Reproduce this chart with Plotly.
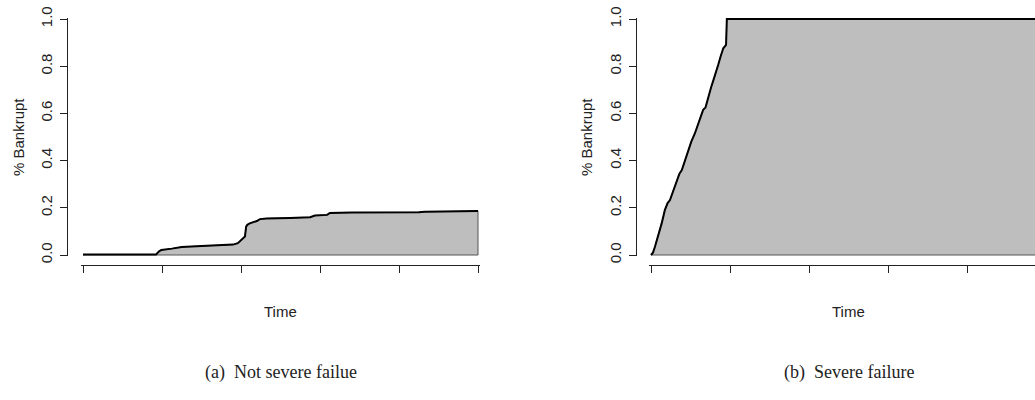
#!/usr/bin/env python
import plotly.graph_objects as go

# Fraction of bankrupt agents over time (time in % of the run)
TIME_A = [0, 18.5, 19.2, 19.8, 22.5, 25, 30, 34, 38, 39.2, 40.2, 41.0, 41.3, 41.6,
          42.2, 43.1, 44.0, 44.8, 46.5, 52.4, 57.5, 58.7, 61.8, 62.5, 68, 85, 86.5, 100]
BANKRUPT_A = [0.002, 0.002, 0.015, 0.021, 0.027, 0.034, 0.038, 0.040, 0.044, 0.050,
              0.064, 0.078, 0.120, 0.128, 0.134, 0.138, 0.144, 0.152, 0.155, 0.157,
              0.160, 0.167, 0.170, 0.178, 0.180, 0.181, 0.183, 0.186]

TIME_B = [0, 0.5, 1.0, 1.8, 2.7, 3.5, 4.2, 4.8, 5.6, 6.5, 7.2, 7.8, 8.6, 9.4, 10.2,
          11.1, 12.4, 13.2, 13.8, 14.5, 15.2, 15.8, 16.5, 17.0, 17.6, 18.3, 19.0, 19.2, 100]
BANKRUPT_B = [0, 0.01, 0.035, 0.08, 0.134, 0.19, 0.22, 0.233, 0.27, 0.318, 0.345, 0.36,
              0.40, 0.445, 0.48, 0.515, 0.572, 0.615, 0.625, 0.671, 0.71, 0.741, 0.775,
              0.805, 0.84, 0.876, 0.89, 1.0, 1.0]

X_TICKS = [0, 20, 40, 60, 80, 100]
Y_TICKS = [0.0, 0.2, 0.4, 0.6, 0.8, 1.0]
CAPTIONS = ["(a)  Not severe failue", "(b)  Severe failure"]

W, H = 1035, 400
# pixel layout of each panel (R-style detached axes)
PX_PER_T = 3.95          # pixels per time unit
Y_ZERO, Y_ONE = 255, 19  # pixel rows of y=0 and y=1
X_AXIS_ROW = 265
PANELS = [
    dict(t0=83, yline=67, label_x=18),
    dict(t0=651, yline=636, label_x=586),
]
FONT = "Liberation Sans, Arial, sans-serif"
SERIF = "Liberation Serif, Times New Roman, serif"
INK = "#222"


def _note(fig, x_px, y_px, text, font, size, angle=0):
    fig.add_annotation(
        x=x_px / W, y=1 - y_px / H, xref="paper", yref="paper",
        xanchor="center", yanchor="middle", text=text, textangle=angle,
        showarrow=False, font=dict(family=font, size=size, color=INK),
    )


def _add_panel(fig, i, times, values, caption):
    p = PANELS[i]
    sfx = "" if i == 0 else str(i + 1)
    t_lo, t_hi = -0.5, 100.5
    x0 = p["t0"] + t_lo * PX_PER_T
    x1 = min(W, p["t0"] + t_hi * PX_PER_T)
    t_hi = (x1 - p["t0"]) / PX_PER_T
    px_per_v = Y_ZERO - Y_ONE
    v_lo, v_hi = -0.005, 1.005
    y_bot = Y_ZERO - v_lo * px_per_v
    y_top = Y_ZERO - v_hi * px_per_v

    axis_style = dict(
        showgrid=False, zeroline=False, showline=True, linecolor=INK,
        linewidth=1, ticks="outside", ticklen=7, tickcolor=INK, tickwidth=1,
        anchor="free",
    )
    fig.update_layout({
        f"xaxis{sfx}": dict(
            domain=[x0 / W, x1 / W], range=[t_lo, t_hi], tickvals=X_TICKS,
            showticklabels=False, position=1 - X_AXIS_ROW / H, **axis_style,
        ),
        f"yaxis{sfx}": dict(
            domain=[1 - y_bot / H, 1 - y_top / H], range=[v_lo, v_hi],
            tickvals=Y_TICKS, tickformat=".1f", tickangle=-90,
            tickfont=dict(family=FONT, size=15, color=INK),
            ticklabelstandoff=2, position=p["yline"] / W, **axis_style,
        ),
    })

    # shaded polygon under the curve, closed down to zero
    fig.add_trace(go.Scatter(
        x=times + [times[-1], times[0]], y=values + [0, 0],
        fill="toself", fillcolor="#bebebe", mode="lines",
        line=dict(color="#555", width=1), hoverinfo="skip",
        xaxis=f"x{sfx}", yaxis=f"y{sfx}",
    ))
    fig.add_trace(go.Scatter(
        x=times, y=values, mode="lines", line=dict(color="black", width=2),
        xaxis=f"x{sfx}", yaxis=f"y{sfx}",
    ))

    centre = p["t0"] + 50 * PX_PER_T
    _note(fig, p["label_x"], (Y_ZERO + Y_ONE) / 2, "% Bankrupt", FONT, 15, angle=-90)
    _note(fig, centre, 311, "Time", FONT, 15)
    _note(fig, centre, 372, caption, SERIF, 18)


def main():
    fig = go.Figure()
    _add_panel(fig, 0, TIME_A, BANKRUPT_A, CAPTIONS[0])
    _add_panel(fig, 1, TIME_B, BANKRUPT_B, CAPTIONS[1])
    fig.update_layout(
        width=W, height=H, margin=dict(l=0, r=0, t=0, b=0, autoexpand=False),
        showlegend=False, plot_bgcolor="white", paper_bgcolor="white",
    )
    fig.write_html("out.html", config={"displayModeBar": False},
                   post_script="document.body.style.margin='0';")


if __name__ == "__main__":
    main()
